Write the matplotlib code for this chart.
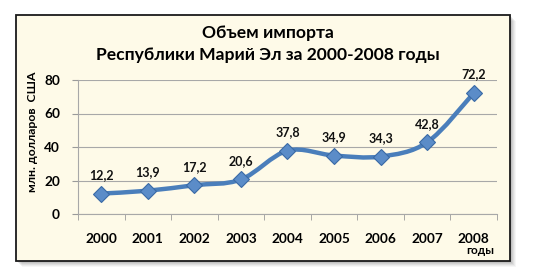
import numpy as np
import matplotlib.pyplot as plt
from matplotlib.path import Path
from matplotlib.patches import PathPatch, Rectangle

years = ['2000', '2001', '2002', '2003', '2004', '2005', '2006', '2007', '2008']
imports = [12.2, 13.9, 17.2, 20.6, 37.8, 34.9, 34.3, 42.8, 72.2]
value_labels = ['12,2', '13,9', '17,2', '20,6', '37,8', '34,9', '34,3', '42,8', '72,2']
y_ticks = [0, 20, 40, 60, 80]

plt.rcParams['font.family'] = ['Lato', 'DejaVu Sans']

W, H = 540, 276
fig = plt.figure(figsize=(W / 100, H / 100), dpi=100)
fig.patch.set_facecolor('white')

# frame with a soft shadow
fx, fy, fw, fh = 16, 15, 494, 246
for k, a in zip(range(6, 0, -1), [0.05, 0.07, 0.09, 0.11, 0.13, 0.15]):
    fig.patches.append(Rectangle(((fx + k) / W, 1 - (fy + fh + k) / H), fw / W, fh / H,
                                 transform=fig.transFigure, facecolor='#606060',
                                 edgecolor='none', alpha=a, zorder=0))
fig.patches.append(Rectangle((fx / W, 1 - (fy + fh) / H), fw / W, fh / H,
                             transform=fig.transFigure, facecolor='#FEFAE8',
                             edgecolor='#1a1a1a', linewidth=1.3, zorder=1))

ax = fig.add_axes([78 / W, 1 - 214 / H, 419 / W, 134 / H])
ax.set_facecolor('none')
ax.set_zorder(2)

x = np.arange(len(imports))
y = np.array(imports)

# smoothed line (Catmull-Rom style Bezier through the data points)
verts = [(x[0], y[0])]
codes = [Path.MOVETO]
n = len(x)
for i in range(n - 1):
    p0 = np.array([x[max(i - 1, 0)], y[max(i - 1, 0)]])
    p1 = np.array([x[i], y[i]])
    p2 = np.array([x[i + 1], y[i + 1]])
    p3 = np.array([x[min(i + 2, n - 1)], y[min(i + 2, n - 1)]])
    c1 = p1 + (p2 - p0) / 6
    c2 = p2 - (p3 - p1) / 6
    verts += [tuple(c1), tuple(c2), tuple(p2)]
    codes += [Path.CURVE4] * 3
ax.add_patch(PathPatch(Path(verts, codes), facecolor='none', edgecolor='#4A7EBB',
                       linewidth=3.2, capstyle='round', zorder=3))
ax.plot(x, y, linestyle='none', marker='D', markersize=8.5, markerfacecolor='#5B8CC8',
        markeredgecolor='#3A6AA5', markeredgewidth=0.8, zorder=4)

for xi, yi, lab in zip(x, y, value_labels):
    ax.annotate(lab, (xi, yi), xytext=(0, 9), textcoords='offset points',
                ha='center', va='bottom', fontsize=9, fontweight='bold', color='#111111')

ax.set_xlim(-0.5, n - 0.5)
ax.set_ylim(0, 80)
ax.set_yticks(y_ticks)
ax.set_xticks(x)
ax.set_xticklabels(years)
ax.set_xticks(np.arange(-0.5, n), minor=True)
ax.tick_params(axis='x', which='major', length=0, pad=14, labelsize=9.8)
ax.tick_params(axis='x', which='minor', length=4, color='#9a9a9a', direction='out')
ax.tick_params(axis='y', length=4, color='#9a9a9a', pad=9, labelsize=9.8)
for lab in ax.get_xticklabels() + ax.get_yticklabels():
    lab.set_fontweight('bold')
ax.grid(axis='y', color='#a8a8a8', linewidth=0.8)
ax.set_axisbelow(True)
for s in ['top', 'right']:
    ax.spines[s].set_visible(False)
ax.spines['left'].set_color('#a8a8a8')
ax.spines['bottom'].set_color('#a8a8a8')

fig.text(268 / W, 1 - 33 / H, 'Объем импорта', ha='center', va='center',
         fontsize=12.6, fontweight='bold')
fig.text(268 / W, 1 - 55 / H, 'Республики Марий Эл за 2000-2008 годы', ha='center',
         va='center', fontsize=12.6, fontweight='bold')
fig.text(33 / W, 1 - 132 / H, 'млн. долларов  США', rotation=90, ha='center',
         va='center', fontsize=8.8, fontweight='bold')
fig.text(494 / W, 1 - 250 / H, 'годы', ha='right', va='center', fontsize=8.5,
         fontweight='bold')

fig.savefig('out.png', dpi=100)
